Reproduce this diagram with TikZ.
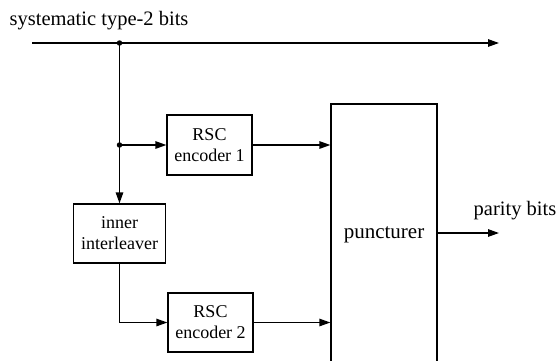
\documentclass[tikz,border=0pt]{standalone}
\usepackage{fontspec}
\setmainfont{Liberation Serif}
\usetikzlibrary{arrows.meta}

\begin{document}
\begin{tikzpicture}[x=1pt,y=-1pt,line width=1.3pt,
    blk/.style={draw,align=center,inner sep=0pt,font=\fontsize{18}{21}\selectfont},
    lbl/.style={font=\fontsize{20.5}{24}\selectfont,inner sep=0pt},
    arr/.style={-{Triangle[length=11pt,width=7.5pt]}},
    dot/.style={circle,fill,inner sep=0pt,minimum size=5.5pt}]
    \useasboundingbox (0,0) rectangle (559,360);
    % blocks
    \node[blk,minimum width=85,minimum height=60] (enc1) at (209.5,145) {RSC\\encoder 1};
    \node[blk,minimum width=92,minimum height=59] (intl) at (119.5,233.5) {inner\\interleaver};
    \node[blk,minimum width=85,minimum height=59] (enc2) at (210.5,322.5) {RSC\\encoder 2};
    \node[blk,minimum width=106,minimum height=262,font=\fontsize{21}{24}\selectfont] (punc) at (384,235) {puncturer};
    % labels
    \node[lbl,anchor=west] (sys) at (9,21) {systematic type-2 bits};
    \node[lbl] (par) at (515,211) {parity bits};
    % points on the lines
    \coordinate (in) at (32,43);
    \coordinate (split) at (119.5,43);
    \coordinate (sysout) at (499,43);
    \coordinate (tap) at (119.5,145);
    \coordinate (parout) at (499,233);
    \node[dot] (d1) at (split) {};
    \node[dot] (d2) at (tap) {};
    % connections
    \draw[arr] (in) -- (sysout);
    \draw[arr] (split) -- (intl.north);
    \draw[arr] (tap) -- (enc1.west);
    \draw[arr] (enc1.east) -- (enc1.east -| punc.west);
    \draw[arr] (intl.south) |- (enc2.west);
    \draw[arr] (enc2.east) -- (enc2.east -| punc.west);
    \draw[arr] (punc.east |- parout) -- (parout);
\end{tikzpicture}
\end{document}
